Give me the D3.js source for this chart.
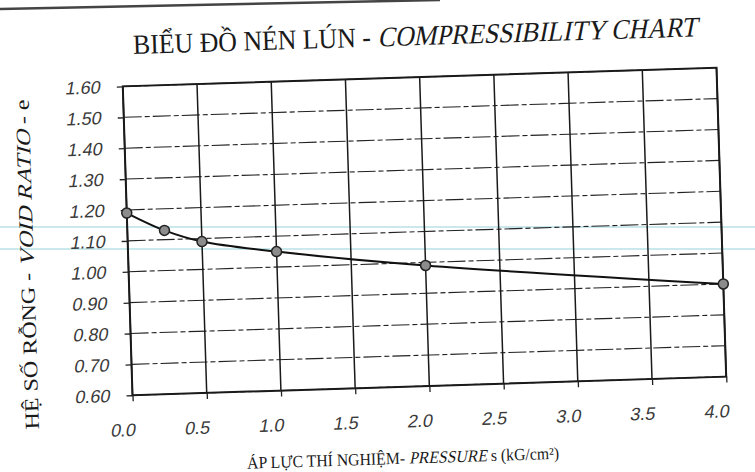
<!DOCTYPE html>
<meta charset="utf-8">
<style>
  body { margin: 0; background: #fff; }
</style>
<svg width="755" height="472"></svg>
<script src="https://d3js.org/d3.v7.min.js"></script>
<script>
// pressure (kG/cm2) and void ratio e
var pressure = [0, 0.25, 0.5, 1.0, 2.0, 4.0];
var voidRatio = [1.19, 1.13, 1.09, 1.05, 0.99, 0.90];
var xTicks = [0, 0.5, 1.0, 1.5, 2.0, 2.5, 3.0, 3.5, 4.0];
var yTicks = [0.6, 0.7, 0.8, 0.9, 1.0, 1.1, 1.2, 1.3, 1.4, 1.5, 1.6];

var serif = "'Liberation Serif', 'Times New Roman', serif";
var sans = "'Liberation Sans', Arial, sans-serif";

var svg = d3.select("svg");

// scan artefacts: page edge and faint cyan streaks
svg.append("line").attr("x1", 0).attr("y1", 9).attr("x2", 440).attr("y2", 0)
    .attr("stroke", "#444").attr("stroke-width", 2.5);
[227, 249].forEach(function(yy) {
  svg.append("line").attr("x1", 0).attr("x2", 755).attr("y1", yy).attr("y2", yy)
      .attr("stroke", "#b8e2e6").attr("stroke-width", 1.5);
});

var margin = {top: 77, left: 127.5},
    width = 594, height = 309;

// the scanned sheet is slightly tilted
var page = svg.append("g").attr("transform", "rotate(-1.8,424.5,231.5)");
var g = page.append("g").attr("transform", "translate(" + margin.left + "," + margin.top + ")");

var x = d3.scaleLinear().domain([0, 4]).range([0, width]);
var y = d3.scaleLinear().domain([0.6, 1.6]).range([height, 0]);

// horizontal grid (dash-dot look of the print)
g.selectAll(".hgrid").data(yTicks).enter().append("line")
    .attr("x1", 0).attr("x2", width)
    .attr("y1", function(d) { return y(d); }).attr("y2", function(d) { return y(d); })
    .attr("stroke", "#222").attr("stroke-width", 1.1)
    .attr("stroke-dasharray", "18,3,5,3");

// vertical grid
g.selectAll(".vgrid").data(xTicks).enter().append("line")
    .attr("y1", 0).attr("y2", height)
    .attr("x1", function(d) { return x(d); }).attr("x2", function(d) { return x(d); })
    .attr("stroke", "#1a1a1a").attr("stroke-width", 1.5);

g.append("rect").attr("width", width).attr("height", height)
    .attr("fill", "none").attr("stroke", "#1a1a1a").attr("stroke-width", 2);

var yAxis = g.append("g")
    .call(d3.axisLeft(y).tickValues(yTicks).tickFormat(d3.format(".2f")).tickSize(6).tickPadding(16));
var xAxis = g.append("g").attr("transform", "translate(0," + height + ")")
    .call(d3.axisBottom(x).tickValues(xTicks).tickFormat(d3.format(".1f")).tickSize(6).tickPadding(22));

[yAxis, xAxis].forEach(function(a) {
  a.select(".domain").remove();
  a.selectAll(".tick line").attr("stroke", "#222").attr("stroke-width", 1.3);
  a.selectAll(".tick text")
      .style("font-family", sans)
      .style("font-size", "18px").attr("fill", "#3a3a3a")
      .attr("transform", "skewX(-12)");   // slanted digits like the print
});
xAxis.selectAll(".tick text").attr("dx", -3);

var data = pressure.map(function(p, i) { return {p: p, e: voidRatio[i]}; });

var line = d3.line()
    .x(function(d) { return x(d.p); })
    .y(function(d) { return y(d.e); })
    .curve(d3.curveCatmullRom.alpha(0.5));

g.append("path").datum(data)
    .attr("fill", "none").attr("stroke", "#111").attr("stroke-width", 2)
    .attr("d", line);

g.selectAll(".pt").data(data).enter().append("circle")
    .attr("cx", function(d) { return x(d.p); })
    .attr("cy", function(d) { return y(d.e); })
    .attr("r", 5)
    .attr("fill", "#8c8c8c").attr("stroke", "#222").attr("stroke-width", 1.5);

// text made of upright and slanted serif pieces, centred on the transform origin
function label(parent, parts, size, transform, fitWidth) {
  var outer = parent.append("g").attr("transform", transform);
  var inner = outer.append("g");
  var cursor = 0;
  parts.forEach(function(p) {
    var t = inner.append("text")
        .style("font-family", serif).style("font-size", size + "px")
        .style("white-space", "pre")
        .attr("fill", "#1a1a1a")
        .attr("transform", "translate(" + cursor + ",0)" + (p[1] ? " skewX(-14)" : ""))
        .text(p[0]);
    cursor += t.node().getComputedTextLength();
  });
  var k = fitWidth ? fitWidth / cursor : 1;
  inner.attr("transform", "scale(" + k + ",1) translate(" + (-cursor / 2) + ",0)");
}

label(page, [["BIỂU ĐỒ NÉN LÚN -\u00A0", false], ["COMPRESSIBILITY CHART", true]],
      28, "translate(421,45)", 564);
label(page, [["ÁP LỰC THÍ NGHIỆM-\u00A0", false], ["PRESSURE", true], ["\u00A0s (kG/cm²)", false]],
      17, "translate(396,463)", 312);
label(page, [["HỆ SỐ RỖNG -\u00A0", false], ["VOID RATIO", true], ["\u00A0-\u00A0e", false]],
      20, "translate(33,252) rotate(-90)", 330);
</script>
